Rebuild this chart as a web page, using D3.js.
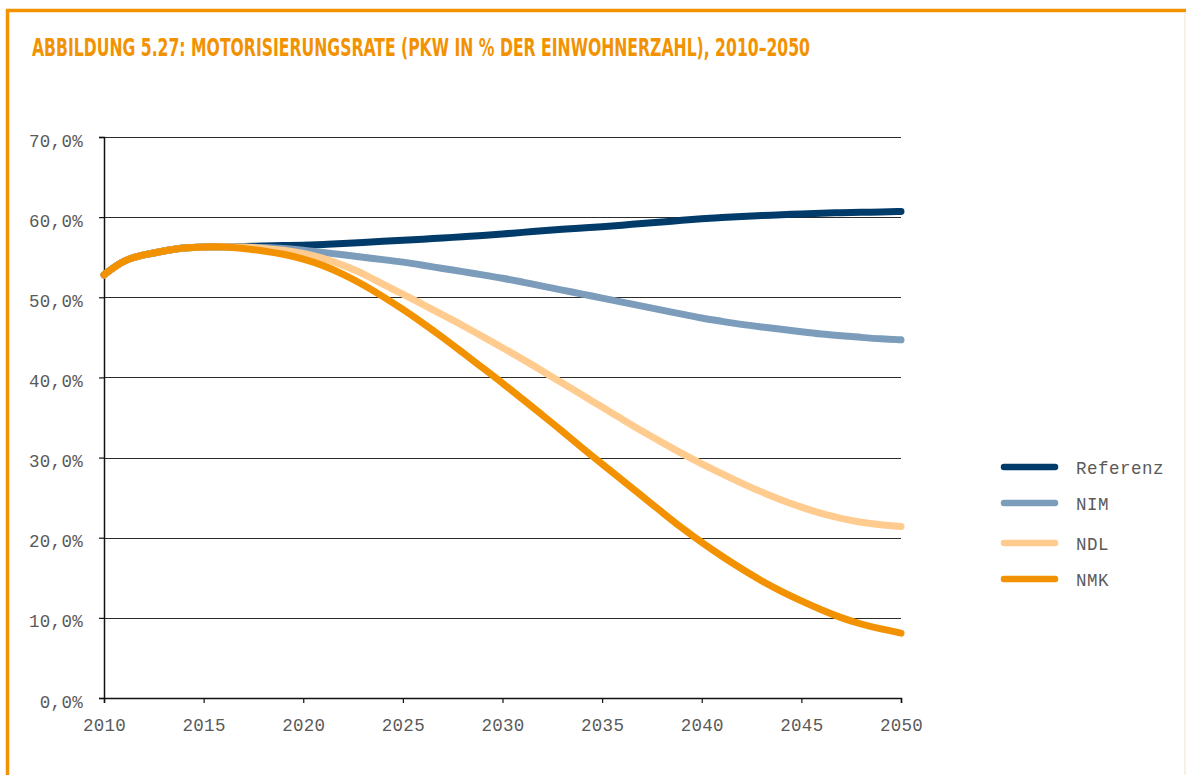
<!DOCTYPE html>
<html><head><meta charset="utf-8">
<script src="https://cdn.jsdelivr.net/npm/d3@7"></script>
<style>html,body{margin:0;padding:0;background:#fff;}svg{display:block;}</style>
</head><body>
<script>
const years = d3.range(2010, 2051);
const common = [52.8, 54.7, 55.3, 55.8, 56.2, 56.3, 56.3];
const referenz = common.concat([56.35,56.4,56.45,56.5,56.6,56.7,56.85,57.0,57.1,57.25,57.4,57.55,57.7,57.9,58.1,58.3,58.5,58.65,58.8,59.0,59.2,59.4,59.6,59.8,59.95,60.1,60.2,60.3,60.4,60.5,60.55,60.6,60.65,60.7]);
const nim = common.concat([56.3,56.2,56.1,55.9,55.6,55.3,55.0,54.7,54.4,54.0,53.6,53.2,52.8,52.4,51.9,51.4,50.9,50.4,49.9,49.4,48.9,48.4,47.9,47.4,47.0,46.6,46.3,46.0,45.7,45.4,45.2,45.0,44.8,44.7]);
const ndl = common.concat([56.3,56.1,55.9,55.5,54.9,54.0,53.0,51.6,50.4,49.1,47.8,46.5,45.1,43.7,42.3,40.8,39.3,37.8,36.3,34.8,33.3,31.9,30.5,29.2,28.0,26.8,25.7,24.7,23.8,23.0,22.4,21.9,21.6,21.4]);
const nmk = common.concat([56.1,55.8,55.4,54.8,54.0,52.9,51.6,50.1,48.5,46.8,45.0,43.1,41.2,39.3,37.3,35.3,33.3,31.2,29.2,27.2,25.2,23.2,21.2,19.4,17.7,16.1,14.6,13.3,12.1,11.0,10.0,9.2,8.6,8.1]);
const seriesNames = ["Referenz", "NIM", "NDL", "NMK"];
const seriesValues = [referenz, nim, ndl, nmk];
const seriesColors = ["#003b6a", "#7b9cba", "#ffcb8e", "#f39200"];
const yTicks = [0, 10, 20, 30, 40, 50, 60, 70];
const xTicks = [2010, 2015, 2020, 2025, 2030, 2035, 2040, 2045, 2050];
const title = "ABBILDUNG 5.27: MOTORISIERUNGSRATE (PKW IN % DER EINWOHNERZAHL), 2010–2050";

const W = 1186, H = 775;
const svg = d3.select("body").append("svg").attr("width", W).attr("height", H);

// frame
svg.append("line").attr("x1", 6).attr("x2", W).attr("y1", 10.5).attr("y2", 10.5)
  .attr("stroke", "#f39200").attr("stroke-width", 3.5);
svg.append("line").attr("x1", 7.5).attr("x2", 7.5).attr("y1", 9).attr("y2", H)
  .attr("stroke", "#f39200").attr("stroke-width", 3.5);
svg.append("line").attr("x1", W - 1).attr("x2", W - 1).attr("y1", 12).attr("y2", H)
  .attr("stroke", "#f5ecdc").attr("stroke-width", 1.5);

svg.append("text").attr("x", 32).attr("y", 56).text(title)
  .attr("font-family", "'DejaVu Sans Condensed','Liberation Sans Narrow',sans-serif")
  .style("font-stretch", "condensed")
  .attr("font-weight", "bold").attr("font-size", 24).attr("fill", "#f39200")
  .attr("textLength", 778).attr("lengthAdjust", "spacingAndGlyphs");

const x = d3.scaleLinear().domain([2010, 2050]).range([104, 901]);
const y = d3.scaleLinear().domain([0, 70]).range([698, 137]);
const mono = "'Liberation Mono','DejaVu Sans Mono',monospace";

// gridlines
svg.append("g").selectAll("line").data(yTicks.filter(d => d > 0)).join("line")
  .attr("x1", x(2010)).attr("x2", x(2050)).attr("y1", d => Math.round(y(d)) + 0.5).attr("y2", d => Math.round(y(d)) + 0.5)
  .attr("stroke", "#2b2b2b").attr("stroke-width", 1.2);

// y axis
const yAxis = svg.append("g").attr("transform", `translate(${x(2010)},0)`)
  .call(d3.axisLeft(y).tickValues(yTicks).tickSize(5).tickPadding(16)
    .tickFormat(d => d3.format(".1f")(d).replace(".", ",") + "%"));
yAxis.select(".domain").attr("stroke", "#111").attr("stroke-width", 1.5);
yAxis.selectAll(".tick line").attr("stroke", "#111").attr("stroke-width", 1.2);
yAxis.selectAll(".tick text").attr("font-family", mono).attr("font-size", 17.5).attr("fill", "#5a5a5a")
  .attr("letter-spacing", 0.3).attr("dy", "0.52em");

// x axis
const xAxis = svg.append("g").attr("transform", `translate(0,${y(0)})`)
  .call(d3.axisBottom(x).tickValues(xTicks).tickSize(5).tickPadding(16).tickFormat(d3.format("d")));
xAxis.select(".domain").attr("stroke", "#111").attr("stroke-width", 1.5);
xAxis.selectAll(".tick line").attr("stroke", "#111").attr("stroke-width", 1.2);
xAxis.selectAll(".tick text").attr("font-family", mono).attr("font-size", 17.5).attr("fill", "#5a5a5a")
  .attr("letter-spacing", 0.3);

// lines
const line = d3.line().x((d, i) => x(years[i])).y(d => y(d)).curve(d3.curveBasis);
svg.append("g").selectAll("path").data(seriesValues).join("path")
  .attr("d", d => line(d)).attr("fill", "none")
  .attr("stroke", (d, i) => seriesColors[i]).attr("stroke-width", 7)
  .attr("stroke-linecap", "round").attr("stroke-linejoin", "round");

// legend
const legendY = [467, 503, 543, 579];
const lg = svg.append("g").selectAll("g").data(seriesNames).join("g")
  .attr("transform", (d, i) => `translate(0,${legendY[i]})`);
lg.append("line").attr("x1", 1004).attr("x2", 1055).attr("y1", 0).attr("y2", 0)
  .attr("stroke", (d, i) => seriesColors[i]).attr("stroke-width", 6.5).attr("stroke-linecap", "round");
lg.append("text").attr("x", 1076).attr("y", 0).attr("dy", "0.4em").text(d => d)
  .attr("font-family", mono).attr("font-size", 17.5).attr("fill", "#5a5a5a").attr("letter-spacing", 0.5);
</script>
</body></html>
